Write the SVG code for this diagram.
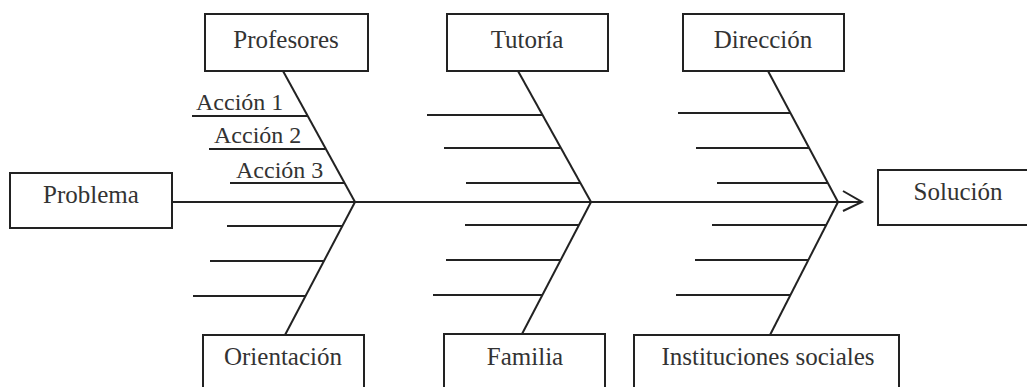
<svg xmlns="http://www.w3.org/2000/svg" width="1027" height="387" viewBox="0 0 1027 387">
<defs>
<style>
.box{fill:#fff;stroke:#222;stroke-width:2}
.t{font-family:'Liberation Serif','Times New Roman','DejaVu Serif',serif;font-size:25px;fill:#333;text-anchor:middle}
.a{font-family:'Liberation Serif','Times New Roman','DejaVu Serif',serif;font-size:24px;fill:#333}
.ln{stroke:#222;stroke-width:2;fill:none}
</style>
</defs>
<rect width="1027" height="387" fill="#fff"/>
<g id="connectors">
<line class="ln" x1="172" y1="202" x2="861" y2="202"/>
<polyline class="ln" points="843,191 862,202 843,211"/>
<line class="ln" x1="283" y1="71" x2="355" y2="202"/>
<line class="ln" x1="355" y1="202" x2="285" y2="335"/>
<line class="ln" x1="518" y1="71" x2="591" y2="202"/>
<line class="ln" x1="591" y1="202" x2="522" y2="334"/>
<line class="ln" x1="768" y1="71" x2="838" y2="202"/>
<line class="ln" x1="838" y1="202" x2="770" y2="335"/>
<line class="ln" x1="192" y1="116" x2="307" y2="116"/>
<line class="ln" x1="209" y1="149" x2="325" y2="149"/>
<line class="ln" x1="230" y1="183" x2="344" y2="183"/>
<line class="ln" x1="227" y1="226" x2="342" y2="226"/>
<line class="ln" x1="210" y1="261" x2="324" y2="261"/>
<line class="ln" x1="193" y1="296" x2="305" y2="296"/>
<line class="ln" x1="427" y1="115" x2="542" y2="115"/>
<line class="ln" x1="444" y1="148" x2="560" y2="148"/>
<line class="ln" x1="466" y1="183" x2="580" y2="183"/>
<line class="ln" x1="465" y1="225" x2="579" y2="225"/>
<line class="ln" x1="446" y1="260" x2="561" y2="260"/>
<line class="ln" x1="433" y1="295" x2="542" y2="295"/>
<line class="ln" x1="678" y1="113" x2="790" y2="113"/>
<line class="ln" x1="696" y1="148" x2="809" y2="148"/>
<line class="ln" x1="717" y1="183" x2="828" y2="183"/>
<line class="ln" x1="712" y1="225" x2="826" y2="225"/>
<line class="ln" x1="695" y1="260" x2="808" y2="260"/>
<line class="ln" x1="676" y1="295" x2="790" y2="295"/>
</g>
<g id="acciones">
<text class="a" x="196" y="110">Acción 1</text>
<text class="a" x="214" y="143">Acción 2</text>
<text class="a" x="236" y="178">Acción 3</text>
</g>
<g id="profesores"><rect class="box" x="205" y="14" width="163" height="57"/><text class="t" x="286" y="48">Profesores</text></g>
<g id="tutoria"><rect class="box" x="447" y="14" width="161" height="57"/><text class="t" x="527" y="48">Tutoría</text></g>
<g id="direccion"><rect class="box" x="683" y="14" width="161" height="57"/><text class="t" x="763" y="48">Dirección</text></g>
<g id="problema"><rect class="box" x="10" y="173" width="162" height="55"/><text class="t" x="91" y="203">Problema</text></g>
<g id="solucion"><rect class="box" x="878" y="170" width="160" height="55"/><text class="t" x="958" y="200">Solución</text></g>
<g id="orientacion"><rect class="box" x="203" y="335" width="161" height="62"/><text class="t" x="283" y="365">Orientación</text></g>
<g id="familia"><rect class="box" x="444" y="334" width="161" height="63"/><text class="t" x="525" y="365">Familia</text></g>
<g id="instituciones"><rect class="box" x="634" y="335" width="265" height="62"/><text class="t" x="768" y="365">Instituciones sociales</text></g>
</svg>
